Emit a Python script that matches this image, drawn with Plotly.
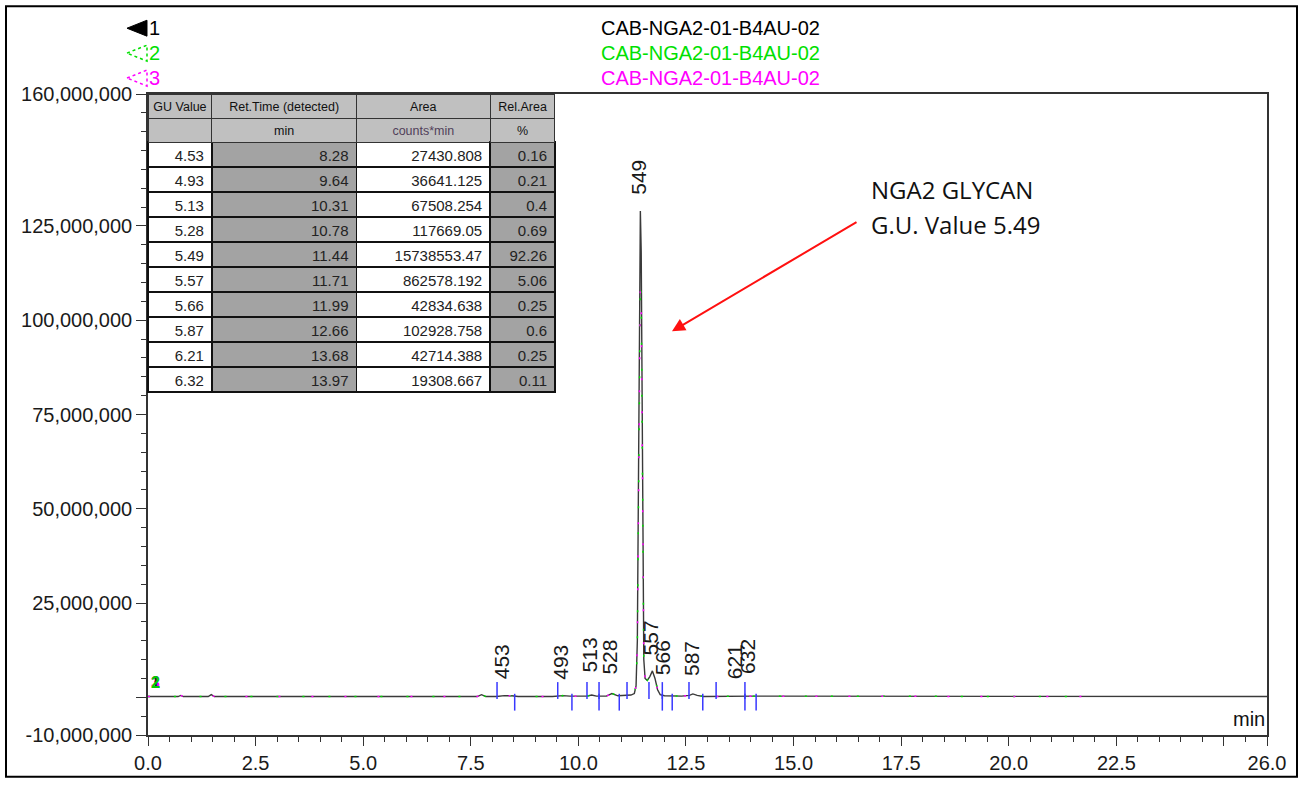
import plotly.graph_objects as go

# ---------------- data ----------------
# chromatogram trace 1 (black) : time (min) and signal (millions of counts)
t_trace1 = [0.0, 0.7, 0.76, 0.82, 1.40, 1.47, 1.54, 7.65, 7.75, 7.85, 8.10, 8.28, 8.45, 8.60,
            9.40, 9.55, 9.64, 9.80, 10.20, 10.31, 10.42, 10.65, 10.78, 10.92, 11.10, 11.22,
            11.30, 11.34, 11.37, 11.40, 11.42, 11.44, 11.46, 11.48, 11.50, 11.52, 11.55, 11.60,
            11.66, 11.72, 11.78, 11.84, 11.90, 12.00, 12.40, 12.58, 12.66, 12.76, 12.90, 13.50,
            14.10, 26.0]
y_trace1 = [0.2, 0.2, 0.5, 0.2, 0.2, 0.7, 0.2, 0.2, 0.7, 0.2, 0.2, 0.45, 0.4, 0.2,
            0.2, 0.4, 0.45, 0.3, 0.3, 0.6, 0.3, 0.3, 1.0, 0.4, 0.5, 0.6,
            1.0, 3.0, 15.0, 65.0, 115.0, 129.0, 118.0, 75.0, 30.0, 10.0, 5.0, 4.5,
            5.5, 7.0, 5.0, 2.0, 0.7, 0.4, 0.3, 0.5, 0.9, 0.5, 0.2, 0.3,
            0.3, 0.2]

# traces 2 (green) and 3 (magenta) share the time grid below
t_overlay = [0.0, 0.7, 0.76, 0.82, 1.40, 1.47, 1.54, 7.65, 7.75, 7.85, 8.10, 8.28, 8.45, 8.60,
             9.40, 9.55, 9.64, 9.80, 10.20, 10.31, 10.42, 10.65, 10.78, 10.92, 11.10, 11.22,
             11.30, 11.34, 11.37, 11.40, 11.42, 11.44, 11.46, 11.48, 11.50, 11.52, 11.55, 11.60,
             11.66, 11.72, 11.78, 11.84, 11.90, 12.00, 12.40, 12.58, 12.66, 12.76, 12.90, 13.50,
             14.10, 21.7]
y_trace2 = [0.2, 0.2, 0.5, 0.2, 0.2, 0.7, 0.2, 0.2, 0.7, 0.2, 0.2, 0.45, 0.4, 0.2,
            0.2, 0.4, 0.45, 0.3, 0.3, 0.6, 0.3, 0.3, 1.0, 0.4, 0.5, 0.6,
            1.0, 3.0, 14.0, 62.0, 104.0, 110.0, 106.0, 72.0, 29.0, 10.0, 5.0, 4.5,
            5.5, 7.0, 5.0, 2.0, 0.7, 0.4, 0.3, 0.5, 0.9, 0.5, 0.2, 0.3,
            0.3, 0.2]
y_trace3 = [0.2, 0.2, 0.5, 0.2, 0.2, 0.7, 0.2, 0.2, 0.7, 0.2, 0.2, 0.45, 0.4, 0.2,
            0.2, 0.4, 0.45, 0.3, 0.3, 0.6, 0.3, 0.3, 1.0, 0.4, 0.5, 0.6,
            1.0, 3.0, 14.0, 61.0, 103.0, 109.0, 105.0, 71.0, 29.0, 10.0, 5.0, 4.5,
            5.5, 7.0, 5.0, 2.0, 0.7, 0.4, 0.3, 0.5, 0.9, 0.5, 0.2, 0.3,
            0.3, 0.2]

# peak labels (GU x 100), their retention times and apex heights (millions)
peak_labels = ["453", "493", "513", "528", "549", "557", "566", "587", "621", "632"]
peak_times = [8.28, 9.64, 10.31, 10.78, 11.44, 11.71, 11.99, 12.66, 13.68, 13.97]
peak_heights = [0.5, 0.5, 2.4, 1.9, 129.0, 7.0, 1.5, 1.5, 0.6, 1.9]

# integration start / end marks (min)
peak_start_times = [8.11, 9.52, 10.20, 10.48, 11.13, 11.64, 11.95, 12.57, 13.20, 13.87]
peak_end_times = [8.52, 9.85, 10.48, 10.95, 11.95, 12.18, 12.89, 13.87, 14.13]
start_mark_level = 1.8
end_mark_level = -1.3

# results table
tbl_gu = ["4.53", "4.93", "5.13", "5.28", "5.49", "5.57", "5.66", "5.87", "6.21", "6.32"]
tbl_rt = ["8.28", "9.64", "10.31", "10.78", "11.44", "11.71", "11.99", "12.66", "13.68", "13.97"]
tbl_area = ["27430.808", "36641.125", "67508.254", "117669.05", "15738553.47", "862578.192",
            "42834.638", "102928.758", "42714.388", "19308.667"]
tbl_rel = ["0.16", "0.21", "0.4", "0.69", "92.26", "5.06", "0.25", "0.6", "0.25", "0.11"]
tbl_header_top = ["GU\u00a0Value", "Ret.Time\u00a0(detected)", "Area", "Rel.Area"]
tbl_header_unit = ["", "min", "counts*min", "%"]

# axes
x_tickvals = [0.0, 2.5, 5.0, 7.5, 10.0, 12.5, 15.0, 17.5, 20.0, 22.5, 25.0, 26.0]
x_ticktext = ["0.0", "2.5", "5.0", "7.5", "10.0", "12.5", "15.0", "17.5", "20.0", "22.5", "", "26.0"]
y_tickvals = [-10e6, 0, 25e6, 50e6, 75e6, 100e6, 125e6, 160e6]
y_ticktext = ["-10,000,000", "", "25,000,000", "50,000,000", "75,000,000", "100,000,000",
              "125,000,000", "160,000,000"]

sample_name = "CAB-NGA2-01-B4AU-02"
M = 1e6

# ---------------- layout helpers (pixel -> paper) ----------------
L, R, T, B = 148, 1267, 94, 737
def px(x):
    return (x - L) / (R - L)
def py(y):
    return (B - y) / (B - T)

FONT = "Liberation Sans, Arial, sans-serif"
CALLOUT = "Open Sans, Noto Sans, sans-serif"

fig = go.Figure()

fig.add_trace(go.Scatter(x=t_trace1, y=[v * M for v in y_trace1], mode="lines",
                         line=dict(color="#3a3a3a", width=1.4), hoverinfo="skip"))
fig.add_trace(go.Scatter(x=t_overlay, y=[v * M for v in y_trace2], mode="lines",
                         line=dict(color="#00e000", width=1.5, dash="2px,24px"), hoverinfo="skip"))
fig.add_trace(go.Scatter(x=t_overlay, y=[v * M for v in y_trace3], mode="lines",
                         line=dict(color="#ff00ff", width=1.5, dash="2px,31px"), hoverinfo="skip"))

fig.add_trace(go.Scatter(x=peak_start_times, y=[start_mark_level * M] * len(peak_start_times),
                         mode="markers", hoverinfo="skip",
                         marker=dict(symbol="line-ns", size=12,
                                     line=dict(width=1.5, color="#3838ff"))))
fig.add_trace(go.Scatter(x=peak_end_times, y=[end_mark_level * M] * len(peak_end_times),
                         mode="markers", hoverinfo="skip",
                         marker=dict(symbol="line-ns", size=12,
                                     line=dict(width=1.5, color="#3838ff"))))

hdr_color = [["#111111", "#111111"], ["#111111", "#111111"],
             ["#111111", "#50405a"], ["#111111", "#111111"]]
fig.add_trace(go.Table(
    domain=dict(x=[0, px(555)], y=[py(398), 1]),
    columnwidth=[64, 145, 134, 65],
    header=dict(values=[[a, b] for a, b in zip(tbl_header_top, tbl_header_unit)],
                height=24, align="center",
                fill=dict(color="#c0c0c0"), line=dict(color="#333333", width=1),
                font=dict(family=FONT, size=12.5, color=hdr_color)),
    cells=dict(values=[tbl_gu, tbl_rt, tbl_area, tbl_rel], height=25, align="right",
               fill=dict(color=["#ffffff", "#a3a3a3", "#ffffff", "#a3a3a3"]),
               line=dict(color="#111111", width=1.5),
               font=dict(family=FONT, size=15, color="#222222")),
))

annotations = []
# peak labels
for lab, t, h in zip(peak_labels, peak_times, peak_heights):
    annotations.append(dict(x=t, y=h * M, xref="x", yref="y", text=lab, showarrow=False,
                            textangle=-90, xanchor="center", yanchor="bottom",
                            yshift=14, xshift=-2,
                            font=dict(family=FONT, size=21, color="#1a1a1a")))

# trace number marks at start
for txt, col in [("3", "#ff00ff"), ("1", "#222222"), ("2", "#00d000")]:
    annotations.append(dict(x=0, y=4e6, xref="x", yref="y", text="<b>" + txt + "</b>",
                            showarrow=False, xanchor="left", xshift=1,
                            font=dict(family=FONT, size=16, color=col)))

# legend rows
rows = [(28, "#000000"), (53, "#00e000"), (78, "#ff00ff")]
shapes = []
for i, (yy, col) in enumerate(rows):
    annotations.append(dict(x=px(147), y=py(yy), xref="paper", yref="paper", text=str(i + 1),
                            showarrow=False, xanchor="left", yanchor="middle",
                            font=dict(family=FONT, size=20, color=col)))
    annotations.append(dict(x=px(710), y=py(yy), xref="paper", yref="paper", text=sample_name,
                            showarrow=False, xanchor="center", yanchor="middle",
                            font=dict(family=FONT, size=20, color=col)))
    path = "M %f %f L %f %f L %f %f Z" % (px(127), py(yy), px(147), py(yy - 8), px(147), py(yy + 8))
    if i == 0:
        shapes.append(dict(type="path", path=path, xref="paper", yref="paper",
                           fillcolor=col, line=dict(color=col, width=1)))
    else:
        shapes.append(dict(type="path", path=path, xref="paper", yref="paper",
                           line=dict(color=col, width=1.5, dash="dot")))

# NGA2 call-out
annotations.append(dict(x=px(869), y=py(190), xref="paper", yref="paper", text="NGA2 GLYCAN",
                        showarrow=False, xanchor="left", yanchor="middle",
                        font=dict(family=CALLOUT, size=24, color="#111111")))
annotations.append(dict(x=px(869), y=py(225), xref="paper", yref="paper", text="G.U. Value 5.49",
                        showarrow=False, xanchor="left", yanchor="middle",
                        font=dict(family=CALLOUT, size=24, color="#111111")))
annotations.append(dict(x=px(672), y=py(332), xref="paper", yref="paper", text="",
                        showarrow=True, ax=186, ay=-110, arrowcolor="#ff1010",
                        arrowwidth=2, arrowhead=2, arrowsize=1.3))
# axis unit
annotations.append(dict(x=1, y=py(721), xref="paper", yref="paper", text="min", showarrow=False,
                        xanchor="right", yanchor="middle",
                        font=dict(family=FONT, size=20, color="#111111")))

# outer frame
shapes.append(dict(type="rect", xref="paper", yref="paper", x0=px(6), x1=px(1297),
                   y0=py(779), y1=py(6), line=dict(color="#000000", width=2)))

fig.update_layout(
    width=1305, height=786,
    margin=dict(l=L, r=1305 - R, t=T, b=786 - B),
    paper_bgcolor="white", plot_bgcolor="white",
    showlegend=False,
    annotations=annotations, shapes=shapes,
    xaxis=dict(range=[0, 26], tickmode="array", tickvals=x_tickvals, ticktext=x_ticktext,
               showgrid=False, zeroline=False, showline=True, linecolor="#333333", linewidth=1.5,
               mirror=True, ticks="outside", ticklen=9, tickwidth=1.3, tickcolor="#333333",
               minor=dict(tickmode="linear", tick0=0, dtick=0.5, ticks="outside", ticklen=5,
                          tickwidth=1.2, tickcolor="#333333", showgrid=False),
               tickfont=dict(family=FONT, size=20, color="#1a1a1a")),
    yaxis=dict(range=[-10e6, 160e6], tickmode="array", tickvals=y_tickvals, ticktext=y_ticktext,
               showgrid=False, zeroline=False, showline=True, linecolor="#333333", linewidth=1.5,
               mirror=True, ticks="outside", ticklen=10, tickwidth=1.3, tickcolor="#333333",
               minor=dict(tickmode="linear", tick0=0, dtick=5e6, ticks="outside", ticklen=5,
                          tickwidth=1.2, tickcolor="#333333", showgrid=False),
               tickfont=dict(family=FONT, size=20, color="#1a1a1a")),
)

fig.write_html("out.html", config={"displayModeBar": False},
               post_script="document.body.style.margin='0';document.body.style.overflow='hidden';")
